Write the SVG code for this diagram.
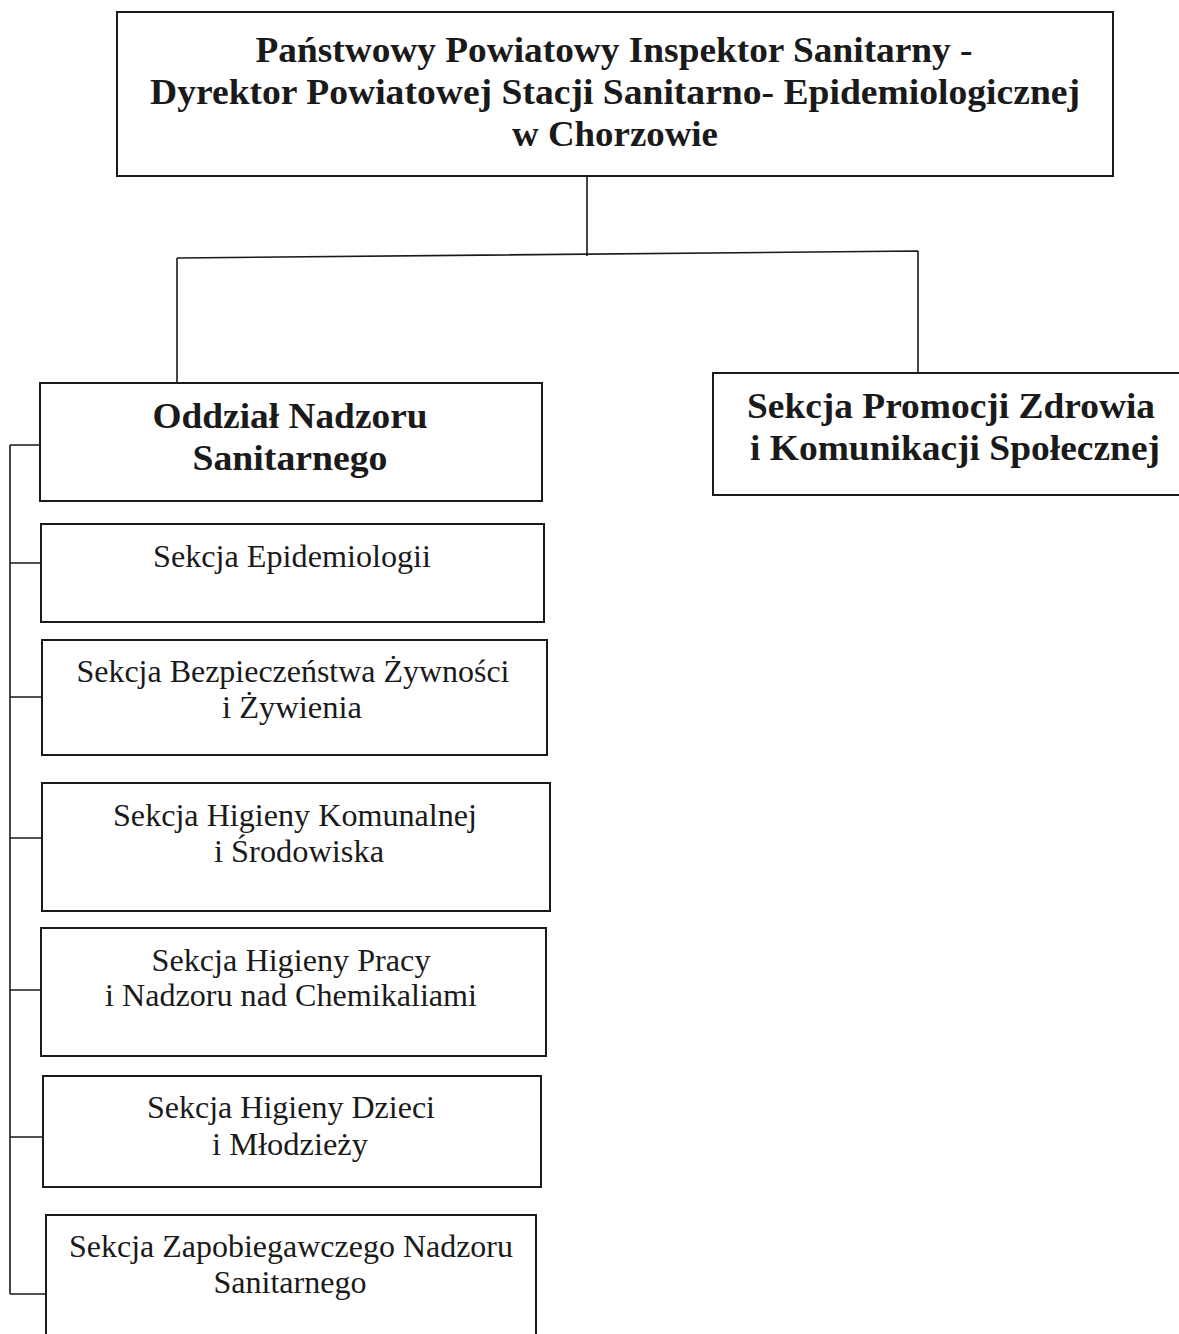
<svg xmlns="http://www.w3.org/2000/svg" width="1179" height="1334" viewBox="0 0 1179 1334">
<style>
.box{fill:#fff;stroke:#1a1a1a;stroke-width:2}
.ln{fill:none;stroke:#1a1a1a;stroke-width:1.6}
.b{font-family:"Liberation Serif","Times New Roman",serif;font-weight:bold;fill:#1a1a1a;text-anchor:middle}
.r{font-family:"Liberation Serif","Times New Roman",serif;fill:#1a1a1a;text-anchor:middle;font-size:32px}
</style>
<rect width="1179" height="1334" fill="#fff"/>
<g id="connectors">
<path class="ln" d="M587 176 V256 M177 258 L918 251 M177 258 V383 M918 251 V373"/>
<path class="ln" d="M10 445 V1294 M10 445 H40 M10 563 H41 M10 697 H42 M10 838 H42 M10 990 H41 M10 1137 H43 M10 1294 H46"/>
</g>
<g id="top">
<rect class="box" x="117" y="12" width="996" height="164"/>
<text class="b" font-size="36" x="614" y="62" textLength="717" lengthAdjust="spacingAndGlyphs">Państwowy Powiatowy Inspektor Sanitarny -</text>
<text class="b" font-size="36" x="615" y="104" textLength="930" lengthAdjust="spacingAndGlyphs">Dyrektor Powiatowej Stacji Sanitarno- Epidemiologicznej</text>
<text class="b" font-size="36" x="615" y="146" textLength="206" lengthAdjust="spacingAndGlyphs">w Chorzowie</text>
</g>
<g id="oddzial">
<rect class="box" x="40" y="383" width="502" height="118"/>
<text class="b" font-size="35" x="290" y="428" textLength="275" lengthAdjust="spacingAndGlyphs">Oddział Nadzoru</text>
<text class="b" font-size="35" x="290" y="470" textLength="195" lengthAdjust="spacingAndGlyphs">Sanitarnego</text>
</g>
<g id="promocja">
<rect class="box" x="713" y="373" width="480" height="122"/>
<text class="b" font-size="35" x="951" y="418" textLength="408" lengthAdjust="spacingAndGlyphs">Sekcja Promocji Zdrowia</text>
<text class="b" font-size="35" x="955" y="460" textLength="410" lengthAdjust="spacingAndGlyphs">i Komunikacji Społecznej</text>
</g>
<g id="epidemiologia">
<rect class="box" x="41" y="524" width="503" height="98"/>
<text class="r" x="292" y="567" textLength="278" lengthAdjust="spacingAndGlyphs">Sekcja Epidemiologii</text>
</g>
<g id="zywnosc">
<rect class="box" x="42" y="640" width="505" height="115"/>
<text class="r" x="293" y="682" textLength="433" lengthAdjust="spacingAndGlyphs">Sekcja Bezpieczeństwa Żywności</text>
<text class="r" x="292" y="718" textLength="140" lengthAdjust="spacingAndGlyphs">i Żywienia</text>
</g>
<g id="komunalna">
<rect class="box" x="42" y="783" width="508" height="128"/>
<text class="r" x="295" y="826" textLength="364" lengthAdjust="spacingAndGlyphs">Sekcja Higieny Komunalnej</text>
<text class="r" x="299" y="862" textLength="170" lengthAdjust="spacingAndGlyphs">i Środowiska</text>
</g>
<g id="praca">
<rect class="box" x="41" y="928" width="505" height="128"/>
<text class="r" x="291" y="971" textLength="279" lengthAdjust="spacingAndGlyphs">Sekcja Higieny Pracy</text>
<text class="r" x="291" y="1006" textLength="372" lengthAdjust="spacingAndGlyphs">i Nadzoru nad Chemikaliami</text>
</g>
<g id="dzieci">
<rect class="box" x="43" y="1076" width="498" height="111"/>
<text class="r" x="291" y="1118" textLength="288" lengthAdjust="spacingAndGlyphs">Sekcja Higieny Dzieci</text>
<text class="r" x="290" y="1155" textLength="156" lengthAdjust="spacingAndGlyphs">i Młodzieży</text>
</g>
<g id="zapobiegawczy">
<rect class="box" x="46" y="1215" width="490" height="140"/>
<text class="r" x="291" y="1257" textLength="444" lengthAdjust="spacingAndGlyphs">Sekcja Zapobiegawczego Nadzoru</text>
<text class="r" x="290" y="1293" textLength="153" lengthAdjust="spacingAndGlyphs">Sanitarnego</text>
</g>
</svg>
